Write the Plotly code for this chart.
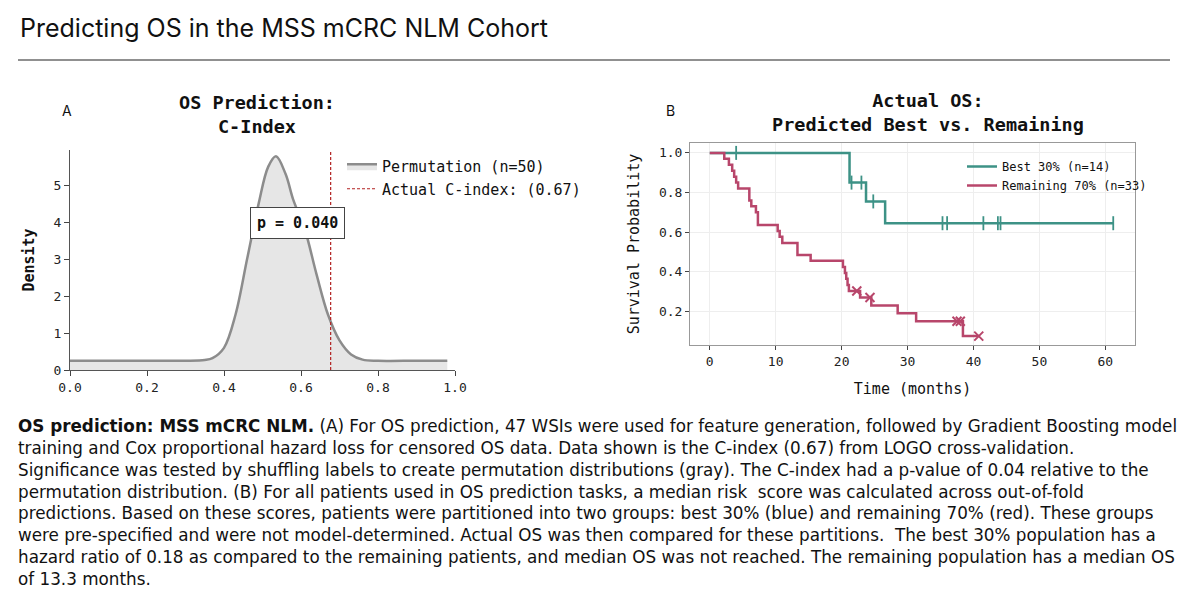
import plotly.graph_objects as go

# Panel A: permutation density (KDE) of C-index
perm_x = [0.0, 0.10, 0.20, 0.30, 0.35, 0.37, 0.40, 0.43, 0.46, 0.49, 0.515, 0.535, 0.56, 0.58,
          0.61, 0.64, 0.67, 0.70, 0.73, 0.76, 0.80, 0.90, 0.98]
perm_y = [0.25, 0.25, 0.25, 0.25, 0.27, 0.32, 0.6, 1.5, 3.0, 4.5, 5.5, 5.78, 5.3, 4.6,
          3.8, 2.6, 1.5, 0.8, 0.42, 0.28, 0.25, 0.25, 0.25]
actual_cindex = 0.677
p_value = "p = 0.040"

# Panel B: Kaplan-Meier curves
best_t = [0, 21.2, 23.7, 26.6, 61.2]
best_s = [1.0, 0.85, 0.755, 0.645, 0.645]
best_cens_t = [4.0, 21.5, 23.0, 24.8, 35.3, 36.0, 41.5, 43.7, 44.1, 61.2]
best_cens_s = [1.0, 0.85, 0.85, 0.755, 0.645, 0.645, 0.645, 0.645, 0.645, 0.645]

rem_t = [0, 2.2, 2.9, 3.4, 3.7, 4.0, 4.3, 6.0, 6.3, 7.0, 7.3, 10.0, 10.3, 10.6, 11.0, 13.3,
         15.3, 20.2, 20.5, 20.7, 20.9, 21.1, 22.8, 24.5, 28.5, 31.3, 38.4, 40.8]
rem_s = [1.0, 0.97, 0.94, 0.91, 0.88, 0.85, 0.82, 0.76, 0.73, 0.70, 0.636, 0.636, 0.606, 0.576,
         0.545, 0.485, 0.455, 0.424, 0.394, 0.364, 0.333, 0.303, 0.27, 0.23, 0.19, 0.15, 0.075, 0.075]
rem_cens_t = [22.3, 24.3, 37.5, 38.0, 40.8]
rem_cens_s = [0.303, 0.27, 0.15, 0.15, 0.075]

MONO = "DejaVu Sans Mono"
SANS = "Inter"
TEAL = "#3d9286"
RED = "#b8466b"
W, H, OFF = 1200, 590, 8  # page gets rendered with an 8px body margin


def px(x):
    return (x - OFF) / W


def py(y):
    return 1 - (y - OFF) / H


fig = go.Figure()

fig.add_trace(go.Scatter(x=perm_x, y=perm_y, mode="lines", line=dict(color="#8c8c8c", width=2.5, shape="spline"),
                         fill="tozeroy", fillcolor="rgba(200,200,200,0.45)", name="Permutation (n=50)",
                         xaxis="x", yaxis="y", legend="legend"))
fig.add_trace(go.Scatter(x=[actual_cindex, actual_cindex], y=[0, 6.0], mode="lines",
                         line=dict(color="#b22222", width=1.2, dash="3px,2px"),
                         name="Actual C-index: (0.67)", xaxis="x", yaxis="y", legend="legend"))

fig.add_trace(go.Scatter(x=best_t, y=best_s, mode="lines", line=dict(color=TEAL, width=2.5, shape="hv"),
                         name="Best 30% (n=14)", xaxis="x2", yaxis="y2", legend="legend2"))
fig.add_trace(go.Scatter(x=rem_t, y=rem_s, mode="lines", line=dict(color=RED, width=2.5, shape="hv"),
                         name="Remaining 70% (n=33)", xaxis="x2", yaxis="y2", legend="legend2"))
fig.add_trace(go.Scatter(x=best_cens_t, y=best_cens_s, mode="markers", showlegend=False,
                         marker=dict(symbol="line-ns", size=10, line=dict(color=TEAL, width=1.8)),
                         xaxis="x2", yaxis="y2"))
fig.add_trace(go.Scatter(x=rem_cens_t, y=rem_cens_s, mode="markers", showlegend=False,
                         marker=dict(symbol="x-thin", size=9, line=dict(color=RED, width=2)),
                         xaxis="x2", yaxis="y2"))

axfont = dict(family=MONO, size=13, color="#222")
fig.update_layout(
    width=W, height=H, margin=dict(l=0, r=0, t=0, b=0, autoexpand=False),
    paper_bgcolor="white", plot_bgcolor="white",
    font=dict(family=MONO, color="#111"),
    xaxis=dict(domain=[px(70), px(455)], range=[0, 1.0], tickvals=[0, 0.2, 0.4, 0.6, 0.8, 1.0],
               tickformat=".1f", showline=True, linecolor="#555", ticks="outside", ticklen=5,
               showgrid=False, zeroline=False, tickfont=axfont),
    yaxis=dict(domain=[py(370), py(150)], range=[0, 5.95], tickvals=[0, 1, 2, 3, 4, 5],
               showline=True, linecolor="#555", ticks="outside", ticklen=5, showgrid=False,
               zeroline=False, tickfont=axfont, title=dict(text="<b>Density</b>", font=dict(family=MONO, size=15))),
    xaxis2=dict(domain=[px(690), px(1135)], range=[-3, 64.5], tickvals=[0, 10, 20, 30, 40, 50, 60],
                anchor="y2", showline=True, mirror=True, linecolor="#999", ticks="outside", ticklen=4,
                showgrid=True, gridcolor="#eeeeee", zeroline=False, tickfont=axfont,
                title=dict(text="Time (months)", font=dict(family=MONO, size=15))),
    yaxis2=dict(domain=[py(345), py(143)], range=[0.03, 1.05], tickvals=[0.2, 0.4, 0.6, 0.8, 1.0],
                tickformat=".1f", anchor="x2", showline=True, mirror=True, linecolor="#999",
                ticks="outside", ticklen=4, showgrid=True, gridcolor="#eeeeee", zeroline=False,
                tickfont=axfont, title=dict(text="Survival Probability", font=dict(family=MONO, size=15))),
    legend=dict(x=px(342), y=py(150), xref="paper", yref="paper", xanchor="left", yanchor="top",
                font=dict(family=MONO, size=15), bgcolor="rgba(0,0,0,0)", tracegroupgap=0),
    legend2=dict(x=px(962), y=py(152), xref="paper", yref="paper", xanchor="left", yanchor="top",
                 font=dict(family=MONO, size=12), bgcolor="rgba(0,0,0,0)"),
    shapes=[dict(type="line", xref="paper", yref="paper", x0=px(18), x1=px(1170),
                 y0=py(60), y1=py(60), line=dict(color="#222", width=1.2))],
)

caption = ("<b>OS prediction: MSS mCRC NLM.</b> (A) For OS prediction, 47 WSIs were used for feature generation, followed by Gradient Boosting model<br>"
           "training and Cox proportional hazard loss for censored OS data. Data shown is the C-index (0.67) from LOGO cross-validation.<br>"
           "Significance was tested by shuffling labels to create permutation distributions (gray). The C-index had a p-value of 0.04 relative to the<br>"
           "permutation distribution. (B) For all patients used in OS prediction tasks, a median risk  score was calculated across out-of-fold<br>"
           "predictions. Based on these scores, patients were partitioned into two groups: best 30% (blue) and remaining 70% (red). These groups<br>"
           "were pre-specified and were not model-determined. Actual OS was then compared for these partitions.  The best 30% population has a<br>"
           "hazard ratio of 0.18 as compared to the remaining patients, and median OS was not reached. The remaining population has a median OS<br>"
           "of 13.3 months.")

fig.add_annotation(text="Predicting OS in the MSS mCRC NLM Cohort", xref="paper", yref="paper", x=px(18), y=py(28),
                   xanchor="left", yanchor="middle", showarrow=False, font=dict(family=SANS, size=25, color="#111"))
fig.add_annotation(text="<b>OS Prediction:<br>C-Index</b>", xref="paper", yref="paper", x=px(257), y=py(90),
                   xanchor="center", yanchor="top", showarrow=False, font=dict(family=MONO, size=18.5))
fig.add_annotation(text="<b>Actual OS:<br>Predicted Best vs. Remaining</b>", xref="paper", yref="paper",
                   x=px(928), y=py(88), xanchor="center", yanchor="top", showarrow=False,
                   font=dict(family=MONO, size=18.5))
fig.add_annotation(text="A", xref="paper", yref="paper", x=px(60), y=py(100), showarrow=False,
                   font=dict(family=SANS, size=14))
fig.add_annotation(text="B", xref="paper", yref="paper", x=px(670), y=py(100), showarrow=False,
                   font=dict(family=SANS, size=14))
fig.add_annotation(text="<b>" + p_value + "</b>", x=0.59, y=3.98, xref="x", yref="y", xanchor="center",
                   showarrow=False, bordercolor="#444", borderwidth=1, borderpad=6, bgcolor="white",
                   font=dict(family=MONO, size=15))
fig.add_annotation(text=caption, xref="paper", yref="paper", x=px(16), y=py(414), xanchor="left",
                   yanchor="top", align="left", showarrow=False,
                   font=dict(family="DejaVu Sans", size=16.8, color="#111"))

fig.write_html("out.html")
